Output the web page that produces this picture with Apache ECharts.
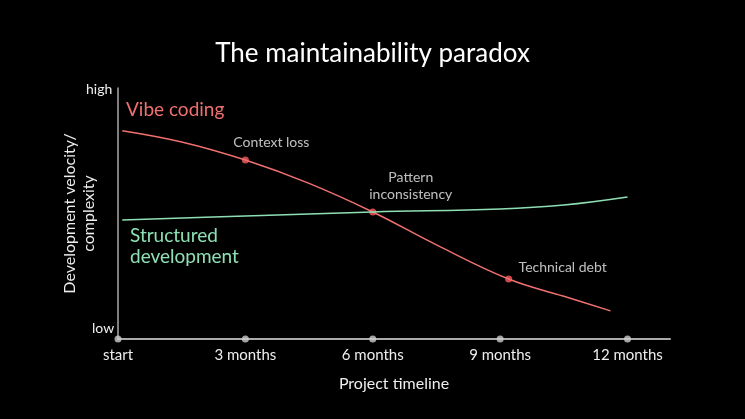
<!DOCTYPE html>
<html><head><meta charset="utf-8">
<script src="https://cdn.jsdelivr.net/npm/echarts@6/dist/echarts.min.js"></script>
<style>html,body{margin:0;background:#000}#c{width:745px;height:419px}</style>
</head><body><div id="c"></div>
<script>
const tickMonths = [0, 3, 6, 9, 12];
const tickLabels = ['start', '3 months', '6 months', '9 months', '12 months'];
const vibeCurve = [[0.1, 8.3], [1.5, 7.85], [3, 7.13], [4.5, 6.2], [6, 5.06], [7.5, 3.75], [9.2, 2.39], [10.5, 1.7], [11.6, 1.12]];
const vibePoints = [[3, 7.13, 'Context loss'], [6, 5.06, 'Pattern\ninconsistency'], [9.2, 2.39, 'Technical debt']];
const structuredCurve = [[0.1, 4.74], [3, 4.9], [6, 5.06], [9, 5.18], [10.5, 5.34], [12, 5.66]];
const F = 'Lato, "Noto Sans", sans-serif';
const chart = echarts.init(document.getElementById('c'));
const labelMap = {}; tickMonths.forEach((m, i) => labelMap[m] = tickLabels[i]);
chart.setOption({
  backgroundColor: '#000',
  title: { text: 'The maintainability paradox', left: 'center', top: 36,
    textStyle: { color: '#fff', fontSize: 26, fontWeight: 'normal', fontFamily: F } },
  grid: { left: 118, right: 75, top: 88, bottom: 80 },
  xAxis: { type: 'value', min: 0, max: 13, interval: 1,
    name: 'Project timeline', nameLocation: 'middle', nameGap: 37,
    nameTextStyle: { color: '#eee', fontSize: 16, fontFamily: F },
    axisLine: { lineStyle: { color: '#aaa', width: 2 } },
    axisTick: { show: false }, splitLine: { show: false },
    axisLabel: { color: '#eee', fontSize: 15, fontFamily: F, margin: 9,
      formatter: v => labelMap[v] !== undefined ? labelMap[v] : '' } },
  yAxis: { type: 'value', min: 0, max: 10, interval: 10,
    name: 'Development velocity/\ncomplexity', nameLocation: 'middle', nameGap: 20,
    nameTextStyle: { color: '#eee', fontSize: 16, fontFamily: F, lineHeight: 19 },
    axisLine: { show: true, lineStyle: { color: '#aaa', width: 1.5 } },
    axisTick: { show: false }, splitLine: { show: false },
    axisLabel: { show: false } },
  series: [
    { type: 'line', data: vibeCurve, smooth: 0.4, symbol: 'none',
      lineStyle: { color: '#f07070', width: 1.5 } },
    { type: 'scatter', data: vibePoints, symbolSize: 7, itemStyle: { color: '#ff5a5f' },
      label: { show: true, color: '#eee', fontSize: 14, fontFamily: F, lineHeight: 17,
        formatter: p => p.data[2], position: 'top', distance: 6 },
      labelLayout: p => p.dataIndex === 2 ? { dx: 54, dy: 6 } :
        (p.dataIndex === 0 ? { dx: 26 } : { dx: 38 }) },
    { type: 'line', data: structuredCurve, smooth: 0.4, symbol: 'none',
      lineStyle: { color: '#8ee0b4', width: 1.5 } },
    { type: 'scatter', data: tickMonths.map(m => [m, 0]), symbolSize: 7, silent: true,
      itemStyle: { color: '#ccc' }, z: 5 }
  ],
  graphic: [
    { type: 'text', left: 92, top: 321, style: { text: 'low', fill: '#eee', font: '14px ' + F } },
    { type: 'text', left: 86, top: 82, style: { text: 'high', fill: '#eee', font: '14px ' + F } },
    { type: 'text', left: 126, top: 100, style: { text: 'Vibe coding', fill: '#f07070', font: '19px ' + F } },
    { type: 'text', left: 130, top: 225, style: { text: 'Structured\ndevelopment', fill: '#8ee0b4', font: '19px ' + F, lineHeight: 21 } }
  ]
});
</script></body></html>
